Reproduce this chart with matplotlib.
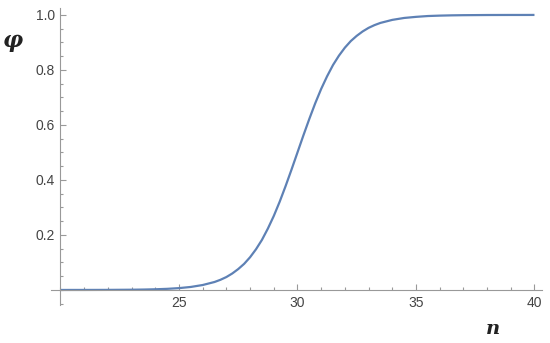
import matplotlib
matplotlib.use("Agg")
from matplotlib import pyplot as plt
from matplotlib.ticker import MultipleLocator, FixedLocator

# values
n_vals = [20, 20.5, 21, 21.5, 22, 22.5, 23, 23.5, 24, 24.5, 25, 25.5, 26,
          26.5, 26.75, 27, 27.25, 27.5, 27.75, 28, 28.25, 28.5, 28.75, 29,
          29.25, 29.5, 29.75, 30, 30.25, 30.5, 30.75, 31, 31.25, 31.5, 31.75,
          32, 32.25, 32.5, 32.75, 33, 33.25, 33.5, 34, 34.5, 35, 35.5, 36,
          36.5, 37, 37.5, 38, 38.5, 39, 39.5, 40]
phi_vals = [0.0000, 0.0001, 0.0001, 0.0002, 0.0003, 0.0006, 0.0009, 0.0015,
            0.0025, 0.0041, 0.0067, 0.011, 0.018,
            0.029, 0.037, 0.047, 0.060, 0.076, 0.095, 0.119, 0.148, 0.182,
            0.223, 0.269, 0.321, 0.378, 0.438, 0.500, 0.562, 0.622, 0.679,
            0.731, 0.777, 0.818, 0.852, 0.881, 0.905, 0.924, 0.940, 0.953,
            0.963, 0.971, 0.982, 0.989, 0.993, 0.996, 0.9975,
            0.9985, 0.9991, 0.9994, 0.9997, 0.9998, 0.9999, 0.9999, 1.0]

x_major = [25, 30, 35, 40]
y_major = [0.2, 0.4, 0.6, 0.8, 1.0]

plt.rcParams['font.family'] = ['Liberation Sans', 'DejaVu Sans']

fig = plt.figure(figsize=(5.5, 3.43), dpi=100)
ax = fig.add_axes([0.0927, 0.1105, 0.892, 0.866])

ax.plot(n_vals, phi_vals, color='#5E81B5', lw=1.6, solid_capstyle='butt')

ax.set_xlim(19.6, 40.3)
ax.set_ylim(-0.055, 1.025)

axis_col = '#999999'
for s in ['top', 'right']:
    ax.spines[s].set_visible(False)
ax.spines['left'].set_position(('data', 20))
ax.spines['bottom'].set_position(('data', 0))
ax.spines['left'].set_color(axis_col)
ax.spines['bottom'].set_color(axis_col)
ax.spines['left'].set_linewidth(0.8)
ax.spines['bottom'].set_linewidth(0.8)

ax.xaxis.set_major_locator(FixedLocator(x_major))
ax.yaxis.set_major_locator(FixedLocator(y_major))
ax.xaxis.set_minor_locator(MultipleLocator(1))
ax.yaxis.set_minor_locator(MultipleLocator(0.05))
ax.set_xticklabels([str(v) for v in x_major])
ax.set_yticklabels(['%.1f' % v for v in y_major])

ax.tick_params(which='both', direction='in', color=axis_col, width=0.8,
               labelsize=10, labelcolor='#444444')
ax.tick_params(which='major', length=4, pad=4)
ax.tick_params(which='minor', length=2.5)

fig.text(13 / 550, 1 - 41 / 343, '\u03c6', fontsize=16, family='DejaVu Serif',
         style='italic', weight='bold', ha='center', va='center',
         color='#222222')
fig.text(493 / 550, 1 - 329 / 343, 'n', fontsize=14, family='DejaVu Serif',
         style='italic', weight='bold', ha='center', va='center',
         color='#222222')

fig.savefig('out.png', dpi=100)
